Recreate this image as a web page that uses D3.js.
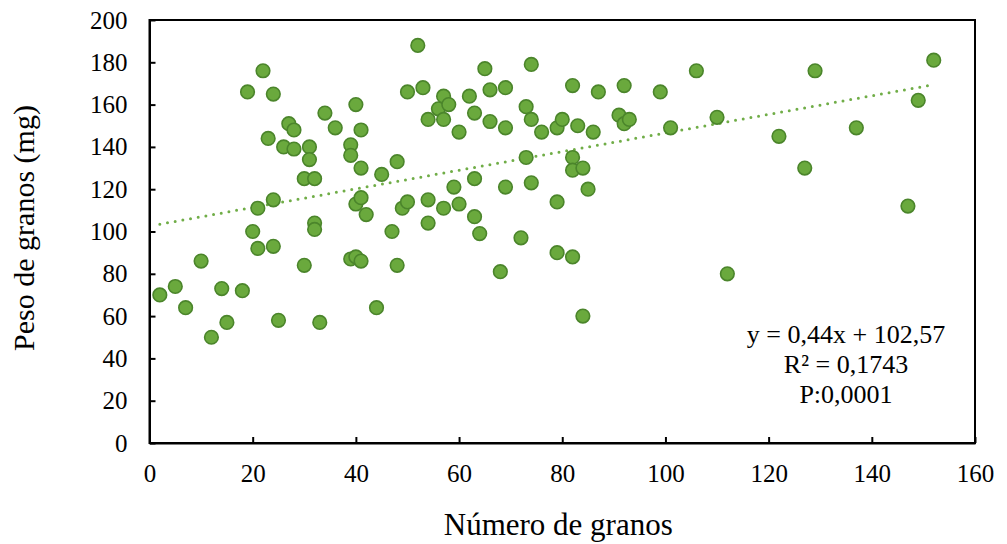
<!DOCTYPE html>
<html>
<head>
<meta charset="utf-8">
<script src="https://cdn.jsdelivr.net/npm/d3@7"></script>
<style>
  body { margin: 0; background: #fff; }
  svg { display: block; }
  svg text { font-family: "Liberation Serif", "Times New Roman", serif; }
</style>
</head>
<body>
<script>
// Número de granos (x) y peso de granos en mg (y)
const numeroGranos = [2, 5, 7, 10, 12, 14, 15, 18, 19, 22, 24, 20, 21, 21, 24, 23, 24, 25, 26, 27,
  28, 28, 30, 30, 31, 31, 32, 32, 32, 33, 34, 36, 39, 39, 39, 40, 40, 40, 41, 41,
  41, 41, 42, 44, 45, 47, 48, 48, 49, 50, 50, 52, 53, 54, 54, 54, 56, 57, 57, 57,
  58, 59, 60, 60, 62, 63, 63, 63, 64, 65, 66, 66, 68, 69, 69, 69, 72, 73, 73, 74,
  74, 74, 76, 79, 79, 79, 80, 82, 82, 82, 82, 83, 84, 84, 85, 86, 87, 91, 92, 92,
  93, 99, 101, 106, 110, 112, 122, 127, 129, 137, 147, 149, 152];
const pesoGranos = [70, 74, 64, 86, 50, 73, 57, 72, 166, 176, 165, 100, 111, 92, 93, 144, 115, 58, 140, 151,
  148, 139, 84, 125, 140, 134, 125, 104, 101, 57, 156, 149, 141, 136, 87, 88, 160, 113, 148, 130,
  116, 86, 108, 64, 127, 100, 84, 133, 111, 114, 166, 188, 168, 153, 115, 104, 158, 164, 153, 111,
  160, 121, 147, 113, 164, 156, 125, 107, 99, 177, 167, 152, 81, 168, 149, 121, 97, 159, 135, 179,
  153, 123, 147, 149, 114, 90, 153, 169, 135, 129, 88, 150, 130, 60, 120, 147, 166, 155, 169, 151,
  153, 166, 149, 176, 154, 80, 145, 130, 176, 149, 112, 162, 181];

const xTicks = [0, 20, 40, 60, 80, 100, 120, 140, 160];
const yTicks = [0, 20, 40, 60, 80, 100, 120, 140, 160, 180, 200];

const pendiente = 0.44;
const intercepto = 102.57;
const etiquetas = ["y = 0,44x + 102,57", "R² = 0,1743", "P:0,0001"];

const w = 1007;
const h = 544;
const m = { left: 149.5, right: 975, top: 20, bottom: 443 };

const data = numeroGranos.map((x, i) => ({ x: x, y: pesoGranos[i] }));

const xScale = d3.scaleLinear().domain([0, 160]).range([m.left, m.right]);
const yScale = d3.scaleLinear().domain([0, 200]).range([m.bottom, m.top]);

const svg = d3.select("body").append("svg")
  .attr("width", w)
  .attr("height", h);

// marco del área de trazado
svg.append("rect")
  .attr("x", m.left)
  .attr("y", m.top)
  .attr("width", m.right - m.left)
  .attr("height", m.bottom - m.top)
  .attr("fill", "none")
  .attr("stroke", "#000")
  .attr("stroke-width", 2);

const xAxis = d3.axisBottom(xScale)
  .tickValues(xTicks)
  .tickSizeInner(-6)
  .tickSizeOuter(0)
  .tickPadding(0);

const gx = svg.append("g")
  .attr("transform", "translate(0," + m.bottom + ")")
  .call(xAxis);
gx.select(".domain").attr("stroke-width", 2);
gx.selectAll(".tick line").attr("stroke-width", 2);
gx.selectAll(".tick text")
  .attr("y", 39)
  .attr("dy", 0)
  .attr("font-size", 25)
  .attr("fill", "#000");

const yAxis = d3.axisLeft(yScale)
  .tickValues(yTicks)
  .tickSizeInner(-6)
  .tickSizeOuter(0)
  .tickPadding(0);

const gy = svg.append("g")
  .attr("transform", "translate(" + m.left + ",0)")
  .call(yAxis);
gy.select(".domain").attr("stroke-width", 2);
gy.selectAll(".tick line").attr("stroke-width", 2);
gy.selectAll(".tick text")
  .attr("x", -22)
  .attr("font-size", 25)
  .attr("fill", "#000");

// línea de tendencia
const ext = d3.extent(numeroGranos);
svg.append("line")
  .attr("x1", xScale(ext[0]))
  .attr("y1", yScale(pendiente * ext[0] + intercepto))
  .attr("x2", xScale(ext[1]))
  .attr("y2", yScale(pendiente * ext[1] + intercepto))
  .attr("stroke", "#70ad47")
  .attr("stroke-width", 3)
  .attr("stroke-linecap", "round")
  .attr("stroke-dasharray", "0 7.8");

svg.selectAll("circle")
  .data(data)
  .enter()
  .append("circle")
  .attr("cx", d => xScale(d.x))
  .attr("cy", d => yScale(d.y))
  .attr("r", 6.8)
  .attr("fill", "#6aa93d")
  .attr("stroke", "#4b852b")
  .attr("stroke-width", 1.6);

svg.append("g")
  .selectAll("text")
  .data(etiquetas)
  .enter()
  .append("text")
  .attr("x", 846)
  .attr("y", (d, i) => 343 + i * 30)
  .attr("text-anchor", "middle")
  .attr("font-size", 26)
  .text(d => d);

svg.append("text")
  .attr("x", (m.left + m.right) / 2 - 4)
  .attr("y", 535)
  .attr("text-anchor", "middle")
  .attr("font-size", 31)
  .text("Número de granos");

svg.append("text")
  .attr("transform", "translate(34," + 228 + ") rotate(-90)")
  .attr("text-anchor", "middle")
  .attr("font-size", 30)
  .text("Peso de granos (mg)");
</script>
</body>
</html>
